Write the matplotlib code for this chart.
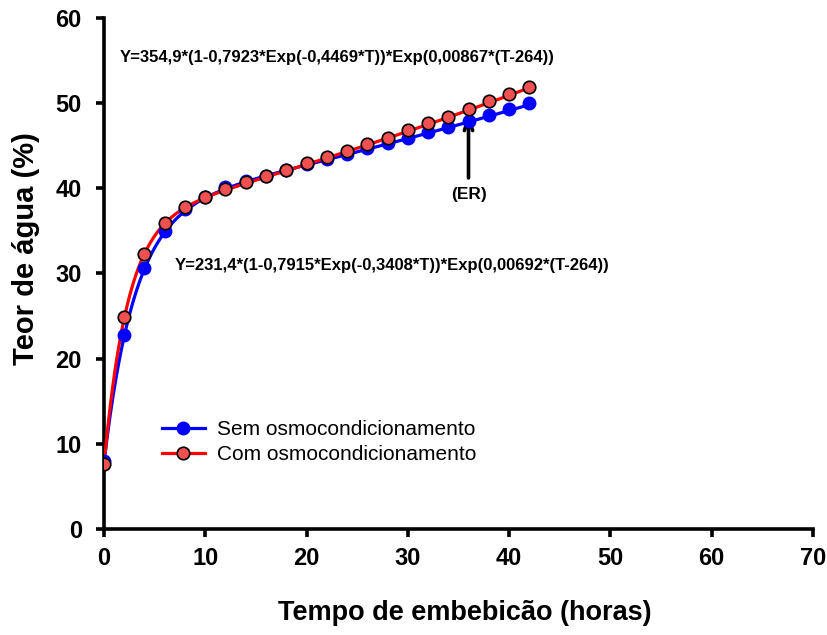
import numpy as np
import matplotlib
matplotlib.use("Agg")
import matplotlib.pyplot as plt
from matplotlib.lines import Line2D

# ---- data ----
tempo = [0, 2, 4, 6, 8, 10, 12, 14, 16, 18, 20, 22, 24, 26, 28, 30, 32, 34, 36, 38, 40, 42]
sem_osmo = [8.0, 22.8, 30.6, 35.0, 37.5, 39.0, 40.1, 40.8, 41.4, 42.1, 42.8, 43.4,
            44.0, 44.7, 45.3, 45.9, 46.6, 47.2, 47.9, 48.6, 49.3, 50.0]
com_osmo = [7.6, 24.9, 32.3, 35.9, 37.8, 39.0, 39.9, 40.7, 41.4, 42.1, 43.0, 43.7,
            44.4, 45.2, 45.9, 46.8, 47.6, 48.4, 49.3, 50.2, 51.1, 51.9]

# fitted model parameters shown on the chart: Y = a*(1-b*Exp(-c*T))*Exp(d*(T-264))
fit_sem = (231.4, 0.7915, 0.3408, 0.00692)
fit_com = (354.9, 0.7923, 0.4469, 0.00867)

eq_com = "Y=354,9*(1-0,7923*Exp(-0,4469*T))*Exp(0,00867*(T-264))"
eq_sem = "Y=231,4*(1-0,7915*Exp(-0,3408*T))*Exp(0,00692*(T-264))"

xticks = [0, 10, 20, 30, 40, 50, 60, 70]
yticks = [0, 10, 20, 30, 40, 50, 60]

def model(t, p):
    a, b, c, d = p
    return a * (1 - b * np.exp(-c * t)) * np.exp(d * (t - 264))

plt.rcParams['font.family'] = ['Liberation Sans', 'DejaVu Sans']

fig = plt.figure(figsize=(8.28, 6.35), dpi=100)
ax = fig.add_axes([0.1256, 0.167, 0.856, 0.805])

tt = np.linspace(min(tempo), max(tempo), 400)
ax.plot(tt, model(tt, fit_sem), color='#0000ff', lw=2.3, zorder=2)
ax.plot(tt, model(tt, fit_com), color='#ff0000', lw=2.3, zorder=3)
ax.plot(tempo, sem_osmo, 'o', color='#0000ff', ms=9, mec='#0000ff', zorder=4)
ax.plot(tempo, com_osmo, 'o', color='#f05050', ms=9, mec='black', mew=1.2, zorder=5)

h1 = Line2D([], [], color='#0000ff', lw=2.3, marker='o', ms=9, mfc='#0000ff', mec='#0000ff')
h2 = Line2D([], [], color='#ff0000', lw=2.3, marker='o', ms=9, mfc='#f05050', mec='black', mew=1.2)
ax.legend([h1, h2], ["Sem osmocondicionamento", "Com osmocondicionamento"],
          loc='upper left', bbox_to_anchor=(0.082, 0.213), frameon=False,
          fontsize=15, handlelength=2.05, handletextpad=0.6, labelspacing=0.28,
          borderaxespad=0, borderpad=0)

ax.text(1.55, 55.3, eq_com, fontsize=12, fontweight='bold', ha='left', va='center')
ax.text(7.0, 30.9, eq_sem, fontsize=12, fontweight='bold', ha='left', va='center')

ax.annotate("", xy=(36, 48.9), xytext=(36, 41.2),
            arrowprops=dict(arrowstyle='->,head_length=0.9,head_width=0.3', color='black',
                            lw=2.6, shrinkA=0, shrinkB=0))
ax.text(36, 39.2, "(ER)", fontsize=12.5, fontweight='bold', ha='center', va='center')

ax.set_xlim(0, 70)
ax.set_ylim(0, 60)
ax.set_xticks(xticks)
ax.set_yticks(yticks)
for s in ['top', 'right']:
    ax.spines[s].set_visible(False)
for s in ['left', 'bottom']:
    ax.spines[s].set_linewidth(2.6)
ax.tick_params(axis='x', width=2.6, length=6, direction='out', pad=7)
ax.tick_params(axis='y', width=2.6, length=6, direction='out', pad=10)
for lab in ax.get_xticklabels() + ax.get_yticklabels():
    lab.set_fontweight('bold')
    lab.set_fontsize(17)

ax.set_xlabel("Tempo de embebicão (horas)", fontsize=19.5, fontweight='bold')
ax.set_ylabel("Teor de água (%)", fontsize=21, fontweight='bold')
ax.xaxis.set_label_coords(0.509, -0.139)
ax.yaxis.set_label_coords(-0.090, 0.548)

fig.savefig("out.png", dpi=100)
